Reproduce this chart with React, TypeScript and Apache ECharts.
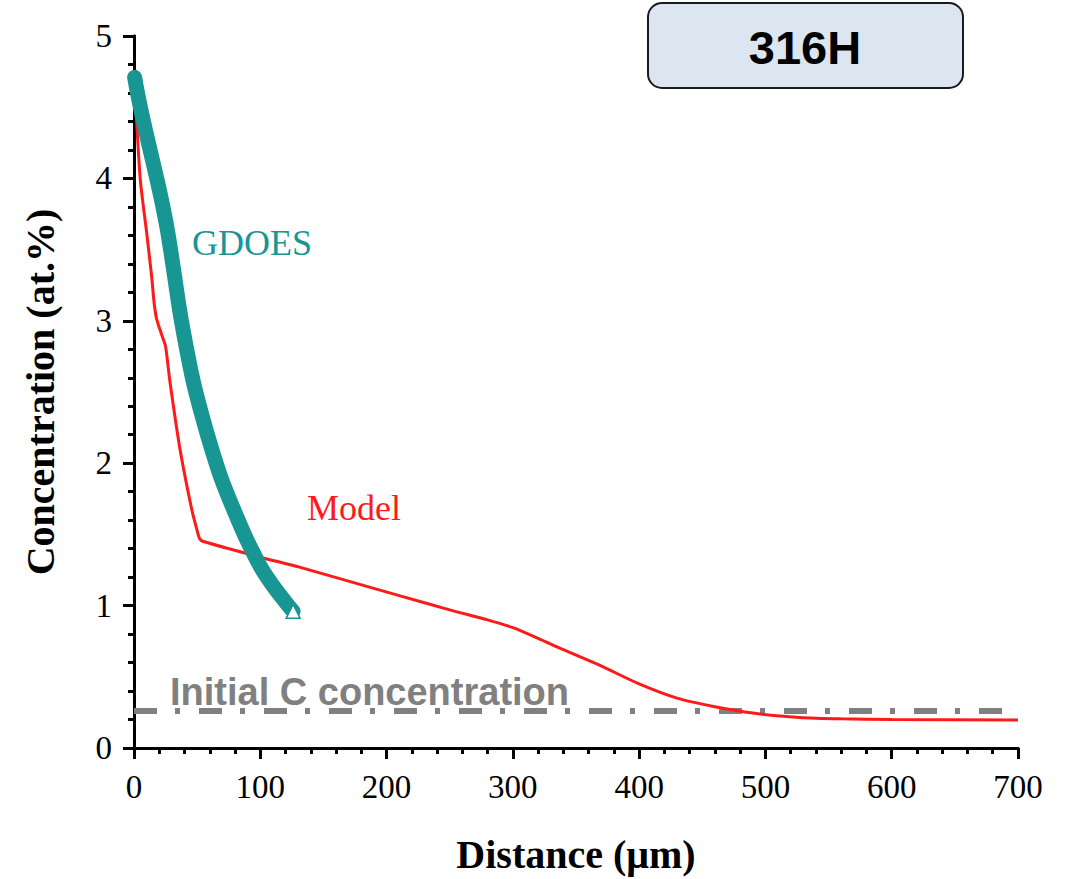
import React, { useEffect, useRef } from "react";
import * as echarts from "echarts";

const xTicks = [0, 100, 200, 300, 400, 500, 600, 700];
const yTicks = [0, 1, 2, 3, 4, 5];

// GDOES measurement (distance µm, concentration at.%)
const gdoesX = [0.5, 1.5, 3.2, 6, 9.3, 13, 18, 22, 26.4, 31, 36.4, 41.7, 47, 54, 61.5, 70, 82, 90, 101, 110, 119.5, 126];
const gdoesY = [4.71, 4.66, 4.58, 4.46, 4.33, 4.19, 4.0, 3.84, 3.64, 3.38, 3.06, 2.8, 2.57, 2.33, 2.1, 1.87, 1.61, 1.45, 1.26, 1.14, 1.03, 0.96];

// Model prediction
const modelX = [0, 1, 5, 10, 14, 16, 18, 22, 25, 28.5, 36.4, 45.6, 49.6, 52, 55, 100, 131, 210, 250, 280, 300, 320, 340, 369, 400, 430, 460, 490, 527, 560, 600, 700];
const modelY = [4.6, 4.55, 3.99, 3.62, 3.31, 3.12, 3.01, 2.9, 2.82, 2.57, 2.1, 1.68, 1.54, 1.47, 1.45, 1.34, 1.27, 1.07, 0.97, 0.9, 0.845, 0.77, 0.69, 0.58, 0.45, 0.35, 0.29, 0.245, 0.215, 0.205, 0.2, 0.196];

// Initial C concentration
const initialX = [0, 700];
const initialY = [0.26, 0.26];

const serif = "Liberation Serif";
const sans = "Liberation Sans";
const teal = "#179693";
const red = "#ff1a1a";

export default function App() {
  const ref = useRef<HTMLDivElement>(null);
  useEffect(() => {
    if (!ref.current) return;
    const chart = echarts.init(ref.current, null, { renderer: "svg" });
    const last = gdoesX.length - 1;
    const gd = gdoesX.map((x, i) =>
      i === last
        ? { value: [x, gdoesY[i]], symbol: "triangle", symbolSize: 14 }
        : { value: [x, gdoesY[i]], symbol: "none" }
    );
    const md = modelX.map((x, i) => [x, modelY[i]]);
    const ic = initialX.map((x, i) => [x, initialY[i]]);
    const axisCommon = {
      axisLine: { show: true, lineStyle: { color: "#000", width: 3 } },
      splitLine: { show: false },
    };
    chart.setOption({
      animation: false,
      backgroundColor: "#fff",
      grid: { left: 134, right: 56, top: 36, bottom: 125 },
      xAxis: [
        {
          type: "value",
          min: 0,
          max: 700,
          interval: 100,
          ...axisCommon,
          axisTick: { show: true, inside: false, length: 11, lineStyle: { width: 3, color: "#000" } },
          minorTick: { show: true, splitNumber: 5, length: 6, lineStyle: { width: 3, color: "#000" } },
          axisLabel: { fontFamily: serif, fontSize: 33, color: "#000", margin: 22 },
          name: "Distance (\u03bcm)",
          nameLocation: "middle",
          nameGap: 86,
          nameTextStyle: { fontFamily: serif, fontSize: 40, fontWeight: "bold", color: "#000" },
        },
        {
          type: "value",
          position: "top",
          min: 0,
          max: 700,
          ...axisCommon,
          axisTick: { show: false },
          axisLabel: { show: false },
        },
      ],
      yAxis: [
        {
          type: "value",
          min: 0,
          max: 5,
          interval: 1,
          ...axisCommon,
          axisTick: { show: true, inside: false, length: 11, lineStyle: { width: 3, color: "#000" } },
          minorTick: { show: true, splitNumber: 5, length: 6, lineStyle: { width: 3, color: "#000" } },
          axisLabel: { fontFamily: serif, fontSize: 33, color: "#000", margin: 22 },
          name: "Concentration (at.%)",
          nameLocation: "middle",
          nameGap: 74,
          nameTextStyle: { fontFamily: serif, fontSize: 40, fontWeight: "bold", color: "#000" },
        },
        {
          type: "value",
          position: "right",
          min: 0,
          max: 5,
          ...axisCommon,
          axisTick: { show: false },
          axisLabel: { show: false },
        },
      ],
      series: [
        {
          type: "line",
          name: "Initial C concentration",
          data: ic,
          symbol: "none",
          lineStyle: { color: "#808080", width: 6, type: [23, 18, 5, 19] },
          z: 1,
        },
        {
          type: "line",
          name: "Model",
          data: md,
          symbol: "none",
          smooth: 0.25,
          lineStyle: { color: red, width: 3 },
          z: 2,
        },
        {
          type: "line",
          name: "GDOES",
          data: gd,
          smooth: 0.3,
          showSymbol: true,
          itemStyle: { color: "#fff", borderColor: teal, borderWidth: 1.5 },
          lineStyle: { color: teal, width: 15, cap: "round" },
          z: 3,
        },
      ],
      graphic: [
        {
          type: "rect",
          shape: { x: 648, y: 3, width: 315, height: 85, r: 14 },
          style: { fill: "#dce6f1", stroke: "#1a1a1a", lineWidth: 2 },
          z: 10,
        },
        {
          type: "text",
          x: 805,
          y: 47,
          style: { text: "316H", font: `bold 47px "${sans}"`, fill: "#000", align: "center", verticalAlign: "middle" },
          z: 11,
        },
        {
          type: "text",
          x: 192,
          y: 243,
          style: { text: "GDOES", font: `36px "${serif}"`, fill: teal, align: "left", verticalAlign: "middle" },
          z: 11,
        },
        {
          type: "text",
          x: 307,
          y: 508,
          style: { text: "Model", font: `36px "${serif}"`, fill: red, align: "left", verticalAlign: "middle" },
          z: 11,
        },
        {
          type: "text",
          x: 170,
          y: 692,
          style: { text: "Initial C concentration", font: `bold 38px "${sans}"`, fill: "#808080", align: "left", verticalAlign: "middle" },
          z: 11,
        },
      ],
    });
    return () => chart.dispose();
  }, []);
  return <div ref={ref} style={{ width: 1074, height: 879, position: "absolute", left: 0, top: 0 }} />;
}
